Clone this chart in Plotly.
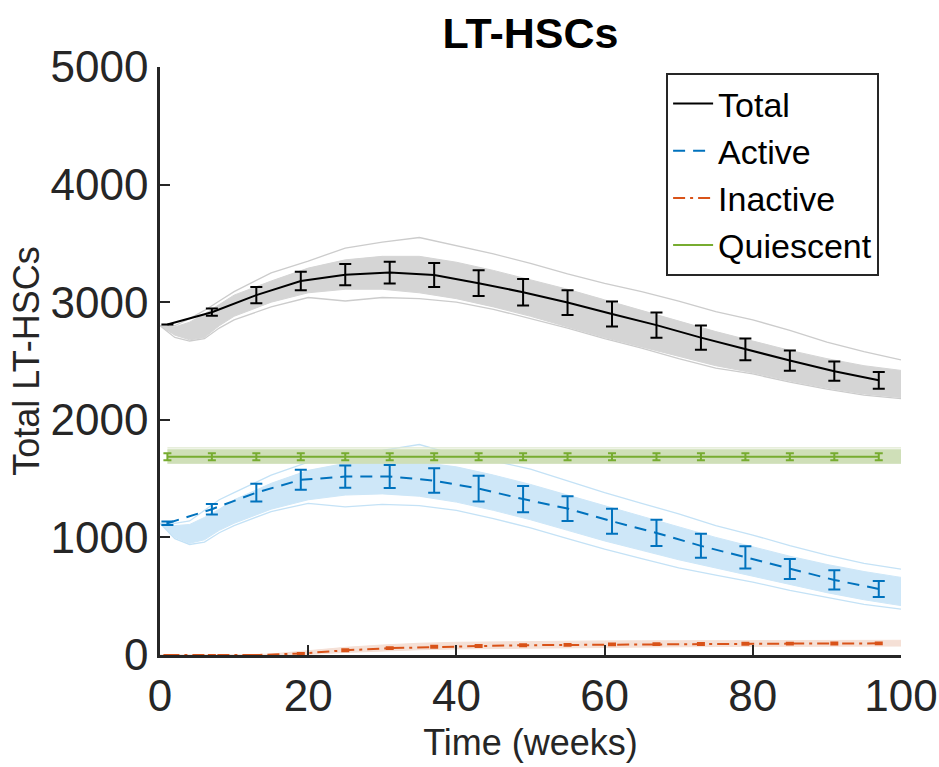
import plotly.graph_objects as go

# ---------------- data ----------------
err_weeks = [1, 7, 13, 19, 25, 31, 37, 43, 49, 55, 61, 67, 73, 79, 85, 91, 97]
total_mean = [2810, 2915, 3060, 3180, 3234, 3252, 3231, 3162, 3085, 2997, 2900, 2805, 2699, 2599, 2504, 2413, 2336]
total_err = [0, 31, 69, 78, 90, 92, 102, 109, 112, 105, 106, 107, 103, 93, 86, 82, 71]
active_mean = [1120, 1240, 1381, 1490, 1517, 1518, 1483, 1415, 1326, 1245, 1137, 1038, 928, 830, 731, 638, 562]
active_err = [15, 45, 76, 85, 95, 97, 104, 110, 112, 105, 106, 112, 102, 95, 85, 82, 68]
inactive_mean = [0, 0, 0, 12, 40, 58, 70, 76, 83, 86, 90, 92, 94, 96, 97, 98, 99]
inactive_err = [0, 0, 0, 6, 8, 8, 8, 8, 8, 8, 8, 8, 8, 8, 8, 8, 8]
quiescent_mean = [1686] * 17
quiescent_err = [30] * 17

band_weeks = [0, 2, 4, 6, 8, 10, 15, 20, 25, 30, 35, 40, 45, 50, 55, 60, 65, 70, 75, 80, 85, 90, 95, 100]
total_core_hi = [2800, 2790, 2830, 2900, 2980, 3060, 3180, 3290, 3360, 3390, 3390, 3340, 3270, 3190, 3110, 3020, 2930, 2840, 2750, 2670, 2590, 2520, 2460, 2420]
total_core_lo = [2800, 2720, 2680, 2700, 2800, 2880, 3000, 3080, 3110, 3110, 3080, 3030, 2960, 2880, 2790, 2700, 2620, 2540, 2460, 2400, 2330, 2270, 2220, 2190]
total_outer_hi = [2800, 2800, 2860, 2930, 3010, 3090, 3250, 3350, 3460, 3510, 3550, 3480, 3410, 3330, 3240, 3160, 3090, 3010, 2920, 2850, 2760, 2660, 2580, 2510]
total_outer_lo = [2800, 2700, 2670, 2690, 2780, 2850, 2960, 3040, 3010, 3040, 3030, 3000, 2940, 2860, 2780, 2690, 2610, 2520, 2440, 2390, 2320, 2260, 2210, 2180]

active_core_hi = [1120, 1100, 1110, 1170, 1240, 1320, 1460, 1570, 1630, 1650, 1640, 1600, 1530, 1450, 1360, 1270, 1180, 1090, 1000, 920, 840, 770, 710, 660]
active_core_lo = [1120, 1000, 950, 980, 1060, 1120, 1240, 1320, 1360, 1370, 1350, 1300, 1230, 1150, 1060, 970, 890, 810, 740, 670, 600, 530, 470, 420]
active_outer_hi = [1120, 1120, 1140, 1230, 1320, 1380, 1530, 1640, 1700, 1740, 1790, 1700, 1650, 1580, 1480, 1380, 1290, 1200, 1100, 1020, 930, 850, 780, 730]
active_outer_lo = [1120, 990, 940, 960, 1040, 1100, 1220, 1290, 1260, 1280, 1270, 1230, 1160, 1080, 990, 900, 820, 740, 680, 620, 550, 490, 430, 390]

inactive_hi = [0, 0, 0, 0, 0, 0, 8, 35, 65, 85, 100, 108, 112, 116, 118, 120, 121, 122, 123, 124, 124, 125, 125, 125]
inactive_lo = [0, 0, 0, 0, 0, 0, 0, 5, 22, 35, 45, 52, 56, 60, 64, 66, 68, 70, 72, 73, 74, 75, 76, 76]

quiescent_band_weeks = [1, 100]
quiescent_hi = [1745, 1745]
quiescent_lo = [1630, 1630]
quiescent_outer = [1762, 1762]

x_ticks = [0, 20, 40, 60, 80, 100]
y_ticks = [0, 1000, 2000, 3000, 4000, 5000]

# ---------------- colours ----------------
C_TOTAL = "#000000"
C_ACTIVE = "#0072BD"
C_INACT = "#D95319"
C_QUIES = "#77AC30"
AX = "#262626"

fig = go.Figure()


def band(x, lo, hi, color, line_color=None):
    fig.add_trace(go.Scatter(x=x, y=lo, mode="lines", line=dict(width=1, color=line_color or color),
                             showlegend=False, hoverinfo="skip"))
    fig.add_trace(go.Scatter(x=x, y=hi, mode="lines", line=dict(width=1, color=line_color or color),
                             fill="tonexty", fillcolor=color, showlegend=False, hoverinfo="skip"))


def outline(x, y, color):
    fig.add_trace(go.Scatter(x=x, y=y, mode="lines", line=dict(width=1.3, color=color),
                             showlegend=False, hoverinfo="skip"))


# trajectory envelopes
band(band_weeks, total_core_lo, total_core_hi, "#d5d5d5")
outline(band_weeks, total_outer_hi, "#cccccc")
outline(band_weeks, total_outer_lo, "#cccccc")

band(band_weeks, active_core_lo, active_core_hi, "#cee7f8")
outline(band_weeks, active_outer_hi, "#c4e2f6")
outline(band_weeks, active_outer_lo, "#c4e2f6")

band(quiescent_band_weeks, quiescent_lo, quiescent_hi, "#cfdfb8")
outline(quiescent_band_weeks, quiescent_outer, "#dfe9cf")

band(band_weeks, inactive_lo, inactive_hi, "#f5e0d6")

# means with error bars
fig.add_trace(go.Scatter(
    x=err_weeks, y=total_mean, mode="lines", name="Total",
    line=dict(color=C_TOTAL, width=2),
    error_y=dict(type="data", array=total_err, color=C_TOTAL, thickness=2, width=6, visible=True)))
fig.add_trace(go.Scatter(
    x=err_weeks, y=active_mean, mode="lines", name="Active",
    line=dict(color=C_ACTIVE, width=2, dash="12px,8px"),
    error_y=dict(type="data", array=active_err, color=C_ACTIVE, thickness=2, width=6, visible=True)))
fig.add_trace(go.Scatter(
    x=err_weeks, y=inactive_mean, mode="lines", name="Inactive",
    line=dict(color=C_INACT, width=2, dash="12px,5px,3px,5px"),
    error_y=dict(type="data", array=inactive_err, color=C_INACT, thickness=2, width=4, visible=True)))
fig.add_trace(go.Scatter(
    x=err_weeks, y=quiescent_mean, mode="lines", name="Quiescent",
    line=dict(color=C_QUIES, width=2),
    error_y=dict(type="data", array=quiescent_err, color=C_QUIES, thickness=2, width=4, visible=True)))

FONT = "Liberation Sans, Arial, Helvetica, sans-serif"

fig.update_layout(
    width=939, height=767,
    margin=dict(l=160, r=38, t=67, b=112),
    paper_bgcolor="white", plot_bgcolor="white",
    font=dict(family=FONT, color=AX),
    title=dict(text="<b>LT-HSCs</b>", x=0.5, xref="paper", y=1 - 33 / 767, yref="container",
               xanchor="center", yanchor="middle", font=dict(size=43, color="#000000", family=FONT)),
    showlegend=True,
    legend=dict(x=0.683, y=0.99, xanchor="left", yanchor="top",
                bordercolor=AX, borderwidth=2, bgcolor="white",
                font=dict(size=34, color="#000000", family=FONT),
                itemwidth=40, tracegroupgap=0, traceorder="normal"),
)

fig.update_xaxes(
    range=[0, 100], tickvals=x_ticks, ticktext=[str(v) for v in x_ticks],
    ticks="inside", ticklen=10, tickwidth=2, tickcolor=AX,
    showline=True, linecolor=AX, linewidth=2.5, showgrid=False, zeroline=False,
    tickfont=dict(size=44, color=AX, family=FONT),
    title=dict(text="Time (weeks)", font=dict(size=36, color=AX, family=FONT), standoff=12),
    automargin=False,
)
fig.update_yaxes(
    range=[0, 5000], tickvals=y_ticks, ticktext=[str(v) for v in y_ticks],
    ticks="inside", ticklen=10, tickwidth=2, tickcolor=AX,
    showline=True, linecolor=AX, linewidth=2.5, showgrid=False, zeroline=False,
    tickfont=dict(size=44, color=AX, family=FONT),
    title=dict(text="Total LT-HSCs", font=dict(size=36, color=AX, family=FONT), standoff=0),
    automargin=False,
)

fig.write_html("out.html")
